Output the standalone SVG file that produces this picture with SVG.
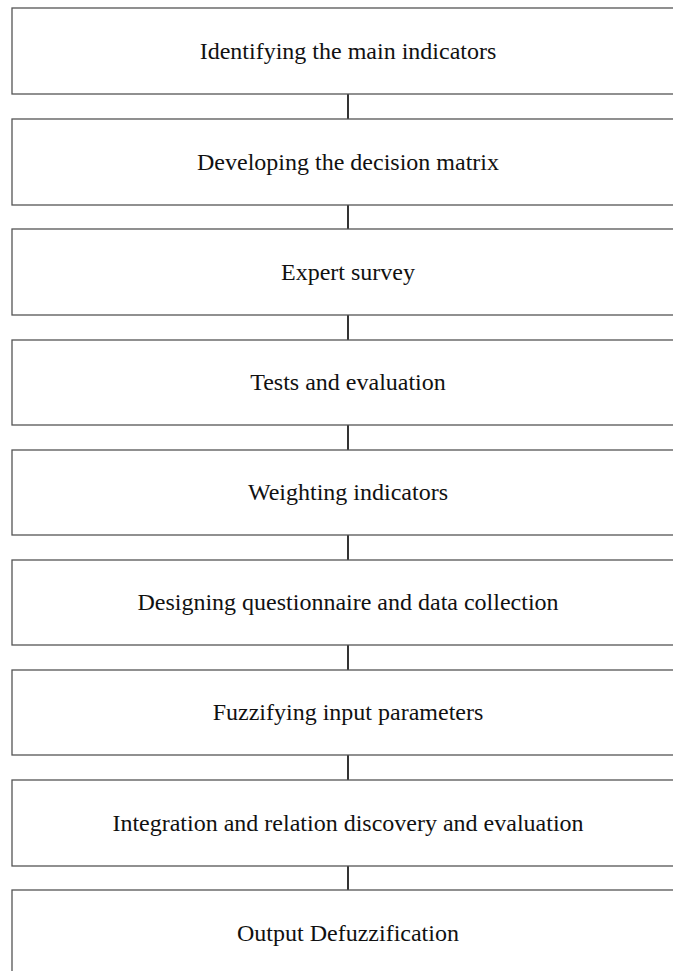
<svg xmlns="http://www.w3.org/2000/svg" width="673" height="971" viewBox="0 0 673 971">
<style>
.box{fill:#fff;stroke:#555;stroke-width:1.3}
.lbl{font-family:"Liberation Serif","Times New Roman",serif;font-size:24px;fill:#111;text-anchor:middle}
.con{stroke:#000;stroke-width:1.6;fill:none}
</style>
<rect width="673" height="971" fill="#fff"/>
<g id="connectors">
<line class="con" x1="348" y1="94" x2="348" y2="119"/>
<line class="con" x1="348" y1="205" x2="348" y2="229"/>
<line class="con" x1="348" y1="315" x2="348" y2="340"/>
<line class="con" x1="348" y1="425" x2="348" y2="450"/>
<line class="con" x1="348" y1="535" x2="348" y2="560"/>
<line class="con" x1="348" y1="645" x2="348" y2="670"/>
<line class="con" x1="348" y1="755" x2="348" y2="780"/>
<line class="con" x1="348" y1="866" x2="348" y2="890"/>
</g>
<g id="n1"><rect class="box" x="12" y="8" width="672" height="86"/><text class="lbl" x="348" y="59">Identifying the main indicators</text></g>
<g id="n2"><rect class="box" x="12" y="119" width="672" height="86"/><text class="lbl" x="348" y="170">Developing the decision matrix</text></g>
<g id="n3"><rect class="box" x="12" y="229" width="672" height="86"/><text class="lbl" x="348" y="280">Expert survey</text></g>
<g id="n4"><rect class="box" x="12" y="340" width="672" height="85"/><text class="lbl" x="348" y="390">Tests and evaluation</text></g>
<g id="n5"><rect class="box" x="12" y="450" width="672" height="85"/><text class="lbl" x="348" y="500">Weighting indicators</text></g>
<g id="n6"><rect class="box" x="12" y="560" width="672" height="85"/><text class="lbl" x="348" y="610">Designing questionnaire and data collection</text></g>
<g id="n7"><rect class="box" x="12" y="670" width="672" height="85"/><text class="lbl" x="348" y="720">Fuzzifying input parameters</text></g>
<g id="n8"><rect class="box" x="12" y="780" width="672" height="86"/><text class="lbl" x="348" y="831">Integration and relation discovery and evaluation</text></g>
<g id="n9"><rect class="box" x="12" y="890" width="672" height="86"/><text class="lbl" x="348" y="941">Output Defuzzification</text></g>
</svg>
